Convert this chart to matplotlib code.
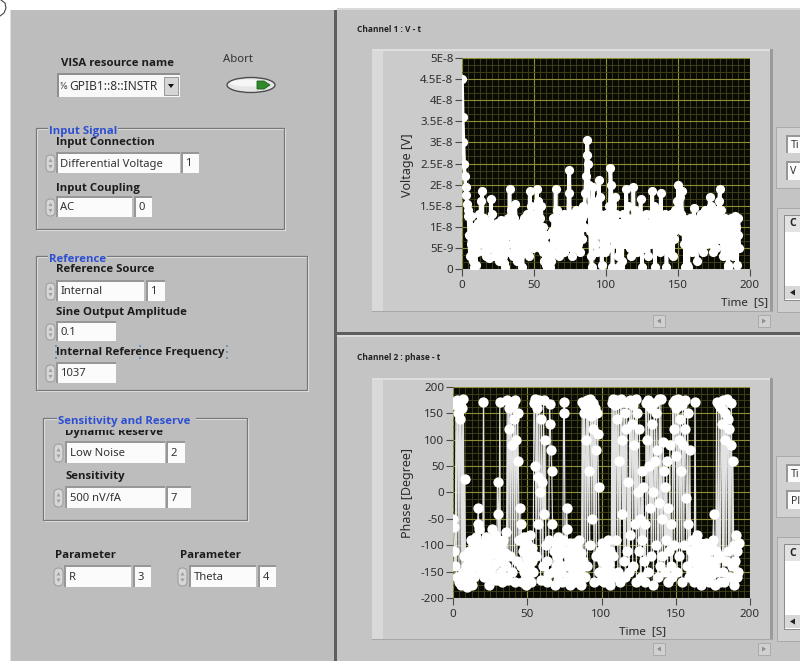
import numpy as np
import matplotlib
matplotlib.use('Agg')

import matplotlib.pyplot as plt
from matplotlib.patches import Rectangle, FancyBboxPatch, Ellipse, Polygon
from matplotlib.ticker import MultipleLocator, FixedLocator, FixedFormatter

plt.rcParams['font.family'] = ['Noto Sans', 'DejaVu Sans']
BOLD_FAMILY = ['Open Sans', 'DejaVu Sans']

W, H = 800, 661
LEFT_BG = '#bdbdbd'
RIGHT_BG = '#c4c4c4'
FRAME_BG = '#cbcbcb'
PLOT_BG = '#0a0a04'

# ---- acquired data, one sample every 0.5 s ----
dt = 0.5
volt_nv = [
    45, 36, 30, 25, 22, 19.5, 17.5, 15.5, 14, 12.5, 8, 3, 12.5, 6, 9, 2, 10, 0.5, 7, 1,
    9, 4, 11, 6, 13, 8, 16, 10, 18.5, 7, 12, 4, 9, 3, 11, 6, 8, 2.5, 10, 5,
    16.5, 9, 13, 6, 10, 3, 8, 5, 11, 7, 4, 9, 2, 6, 11.5, 5, 8, 3, 11, 1.5,
    0.5, 6, 10, 4, 12, 8, 19, 10, 14, 6, 9, 3, 12, 7, 15.5, 9, 5, 2, 10, 6,
    8, 3, 11, 5, 0.5, 7, 12, 9, 4, 10, 13, 6, 9, 3, 18.5, 11, 15, 8, 12, 5,
    10, 6, 13, 7, 19, 11, 16, 9, 5, 12, 15, 8, 4, 10, 2, 6, 1, 8, 0.5, 4,
    1, 5, 0.5, 3, 2, 9, 6, 12, 4, 10, 19, 8, 14, 6, 11, 3, 9, 5, 12, 7,
    10, 4, 13, 7, 9, 5, 12, 8, 18, 23.5, 11, 6, 13, 3, 9, 7, 12, 5, 14, 8,
    11, 6, 13, 9, 4, 10, 12, 7, 15, 10, 13, 18, 22, 27, 30.5, 25, 20, 14, 9, 3,
    0.5, 12, 19.5, 8, 14, 6, 11, 4, 16, 9, 21, 13, 17, 8, 1, 10, 6, 12, 4, 9,
    13, 7, 11, 5, 15, 10, 24, 20, 15, 0.5, 8, 12, 17, 9, 13, 6, 10, 3, 11, 1,
    0.5, 7, 2, 9, 13, 6, 10, 8, 19, 12, 15, 7, 11, 5, 9, 3, 12, 7, 19.5, 10,
    14, 6, 11, 4, 9, 12, 8, 5, 16.5, 10, 0.5, 7, 12, 9, 5, 11, 13, 6, 9, 3,
    10, 6, 13, 9, 18.5, 12, 15, 7, 0.5, 9, 12, 5, 14, 8, 11, 4, 18, 12, 9, 6,
    11, 5, 13, 7, 0.5, 9, 12, 4, 10, 6, 13, 8, 11, 3, 9, 7, 14, 10, 16, 12,
    20, 14, 11, 17, 13, 18.5, 9, 12, 6, 10, 0.5, 8, 1, 11, 0.5, 6, 12, 8, 10, 4,
    9, 12, 14.5, 7, 10, 5, 2, 8, 11, 6, 12, 9, 13, 7, 10, 4, 12, 8, 14, 6,
    11, 7, 13, 9, 17, 12, 15, 6, 10, 4, 12, 8, 14, 5, 11, 7, 13, 16, 19, 10,
    14, 8, 3, 10, 6, 12, 9, 4, 11, 1, 0.5, 7, 10, 5, 12, 8, 3, 9, 11, 12.5,
    6, 10, 1, 8, 12, 5,
]
phase_deg = [
    -50, -65, -110, -140, 165, -160, 175, 150, -170, 170, 140, -175, 160, -150, 178, -120, 25, -165, -140, -180,
    -130, -170, -110, -150, -90, -175, -120, -100, -160, -140, -115, -85, -130, -60, -30, -70, -105, -150, -95, -125,
    -140, 172, -160, -110, -130, -85, -150, -100, -175, -120, -90, -145, -70, -115, -160, -95, -135, -80, -165, -110,
    20, -40, -120, 172, -150, -100, -170, -130, -90, -160, -115, -75, -140, 175, -165, 160, 120, -120, 170, 90,
    -150, 165, 140, -170, 175, 100, -130, 150, 60, -90, -30, -140, -60, -170, -110, -85, -150, -100, -175, -125,
    -95, -160, -115, -140, -80, -170, -130, -105, -150, 170, 178, 50, -120, 160, 30, -60, 175, 0, -165, 140,
    20, -140, 175, -40, 100, -100, -170, -130, -155, -90, 168, 130, 80, 40, -60, -150, -110, -175, -95, -140,
    -120, -165, -85, -135, -100, -150, -115, -170, -90, 172, 150, -140, -110, -30, -70, -160, -125, -95, -175, -140,
    -110, -150, -130, -95, -170, -120, -140, -105, -160, -125, -90, -145, -115, -175, 172, -130, 165, 150, -160, 100,
    175, -140, 160, 40, -100, 178, 145, -50, 170, 120, -170, 160, 80, -120, 150, 110, 10, -150, -110, -165,
    -130, -95, -155, -115, -170, -100, -140, -125, -160, -90, -135, -175, -110, -150, 170, -120, 178, -160, 165, -90,
    175, 140, -150, 170, 60, -170, 178, 100, -40, 172, -130, 150, -160, 120, 170, -110, 20, -150, 175, -80,
    172, 130, -140, 165, 90, -60, 178, -170, 150, 0, -110, 120, -50, -160, 40, -90, 10, -130, -60, -170,
    170, 100, -150, 175, 50, -30, 160, -120, 130, 0, -175, 170, 60, -100, 150, 80, -160, -20, 178, -140,
    178, -50, -120, 95, 40, -150, 10, -90, 60, -170, -30, -110, 90, -140, -60, -160, 170, 120, -100, 175,
    160, 70, -150, 178, 100, -120, 140, 40, -170, 165, 90, -100, 175, 120, -10, -140, 150, -60, -160, 80,
    -110, -150, -90, -130, -170, -120, 172, -100, -145, -80, -160, -115, -135, -95, -175, -125, -150, -105, -165, -140,
    -120, -95, -160, -135, -110, -170, -145, -100, -130, -155, -90, -40, -140, -175, -110, 172, -150, -125, 165, -170,
    -120, 160, 130, -150, 175, -170, 150, 100, -130, 178, 140, -110, 120, -160, 90, 170, -140, 60, -100, -175,
    -130, -80, -160, -110, -150, -95,
]

time_ticks = [0, 50, 100, 150, 200]
volt_ticks = [0, 5e-9, 1e-8, 1.5e-8, 2e-8, 2.5e-8, 3e-8, 3.5e-8, 4e-8, 4.5e-8, 5e-8]
volt_tick_labels = ['0', '5E-9', '1E-8', '1.5E-8', '2E-8', '2.5E-8', '3E-8',
                    '3.5E-8', '4E-8', '4.5E-8', '5E-8']
phase_ticks = [-200, -150, -100, -50, 0, 50, 100, 150, 200]

fig = plt.figure(figsize=(W / 100, H / 100), dpi=100)
bg = fig.add_axes([0, 0, 1, 1])
bg.set_xlim(0, W)
bg.set_ylim(H, 0)
bg.axis('off')


def px_axes(x0, y0, x1, y1):
    return fig.add_axes([x0 / W, 1 - y1 / H, (x1 - x0) / W, (y1 - y0) / H])


def box(x0, y0, x1, y1, fc, ec='none', lw=0, z=1):
    bg.add_patch(Rectangle((x0, y0), x1 - x0, y1 - y0, fc=fc, ec=ec, lw=lw, zorder=z))


def tri(pts, fc, z=4):
    bg.add_patch(Polygon(pts, fc=fc, ec='none', zorder=z))


def label(x, y, s, size=8.2, bold=True, color='#1c1c1c', ha='left', z=5, **kw):
    if bold:
        kw['family'] = BOLD_FAMILY
    return bg.text(x, y, s, fontsize=size, fontweight='bold' if bold else 'normal',
                   color=color, ha=ha, va='center', zorder=z, **kw)


def field(x0, y0, x1, y1, s='', z=3, size=8.1):
    # sunken white entry box
    box(x0 - 2, y0 - 2, x1, y1, '#979797', z=z)
    box(x0, y0, x1, y1, '#fbfbfb', z=z)
    if s:
        label(x0 + 2.5, (y0 + y1) / 2 + 0.5, s, size=size, bold=False, color='#333333', z=z + 1)


def spinner(x, y0, y1):
    bg.add_patch(FancyBboxPatch((x, y0), 9, y1 - y0, boxstyle='round,pad=0,rounding_size=4.5',
                                fc='#d6d6d6', ec='#9a9a9a', lw=0.7, zorder=3))
    ym = (y0 + y1) / 2
    tri([[x + 2.5, ym - 1.5], [x + 6.5, ym - 1.5], [x + 4.5, ym - 5]], '#a0a0a0')
    tri([[x + 2.5, ym + 1.5], [x + 6.5, ym + 1.5], [x + 4.5, ym + 5]], '#a0a0a0')


def ring(xs, x0, x1, y0, y1, s, ix0, ix1, idx):
    spinner(xs, y0 + 1, y1 - 1)
    field(x0, y0, x1, y1, s)
    field(ix0, y0, ix1, y1, idx)


def group(x0, y0, x1, y1, title, tx):
    bg.add_patch(Rectangle((x0 + 1, y0 + 1), x1 - x0, y1 - y0, fill=False, ec='#e8e8e8', lw=0.8, zorder=2))
    bg.add_patch(Rectangle((x0, y0), x1 - x0, y1 - y0, fill=False, ec='#777777', lw=0.9, zorder=2))
    # title sits on the border line but under the control labels
    label(tx, y0 + 3.5, title, color='#2d4fd2', z=4.9,
          bbox=dict(boxstyle='square,pad=0.05', fc=LEFT_BG, ec='none'))


# ---- window background ----
box(0, 0, W, H, 'white', z=0)
box(10, 10, 336, H, LEFT_BG)
box(10, 10, 11, H, '#dedede', z=1.5)
box(334, 10, 337, H, '#5e5e5e', z=1.5)
box(337, 8, W, H, RIGHT_BG)
box(337, 8, W, 9.5, '#dadada', z=1.5)
box(337, 332, W, 335, '#5e5e5e', z=1.5)
box(337, 335, W, 336.5, '#dcdcdc', z=1.5)
bg.plot([1, 5, 6, 4, 0], [0, 3, 8, 13, 16], color='#444444', lw=0.8, zorder=2)

# ---- left control panel ----
label(61, 63, 'VISA resource name')
box(57, 73, 180, 97, '#8f8f8f', z=2)
box(59, 75, 180, 97, '#f8f8f8', z=2)
label(60, 86.5, '⅙', size=7, bold=False, color='#444444')
label(69, 86.5, 'GPIB1::8::INSTR', size=8.6, bold=False, color='#333333')
box(164, 77, 178, 95, '#d6d6d6', ec='#8a8a8a', lw=0.6, z=3)
tri([[168, 84], [174, 84], [171, 88]], '#111111')

label(238, 59, 'Abort', size=8.2, bold=False, color='#333333', ha='center')
bg.add_patch(Ellipse((251, 85), 48, 15, fc='#e6e6e6', ec='#4d4d4d', lw=1.0, zorder=3))
bg.add_patch(Ellipse((249, 83), 38, 7, fc='#f6f6f6', ec='none', zorder=3.5))
bg.add_patch(Polygon([[257, 81], [264, 81], [270, 85], [264, 89], [257, 89]],
                     fc='#2f8a2a', ec='#1f5f1c', lw=0.6, zorder=4))

group(36, 128, 284, 229, 'Input Signal', 49)
label(56, 143, 'Input Connection')
ring(46, 58, 180, 154, 173, 'Differential Voltage', 183, 199, '1')
label(56, 188, 'Input Coupling')
ring(46, 58, 132, 198, 217, 'AC', 136, 152, '0')

group(36, 256, 307, 390, 'Reference', 49)
label(56, 270, 'Reference Source')
ring(46, 58, 144, 282, 301, 'Internal', 148, 165, '1')
label(56, 312, 'Sine Output Amplitude')
spinner(46, 324, 340)
field(58, 323, 116, 341, '0.1')
label(56, 352, 'Internal Reference Frequency')
for hx, hys in [(56, (346, 352, 358)), (140, (346, 358)), (227, (346, 352, 358))]:
    for hy in hys:
        box(hx - 1, hy - 1, hx + 1, hy + 1, '#6f93bd', z=6)
spinner(46, 365, 382)
field(58, 364, 116, 383, '1037')

group(43, 418, 247, 520, 'Sensitivity and Reserve', 58)
label(65, 433, 'Dynamic Reserve')
# the group title overlaps the top of the label below it
box(57, 412, 196, 429.5, LEFT_BG, z=5.5)
label(58, 421.5, 'Sensitivity and Reserve', color='#2d4fd2', z=7)
ring(54, 67, 165, 443, 463, 'Low Noise', 168, 185, '2')
label(65, 477, 'Sensitivity')
ring(54, 67, 165, 488, 508, '500 nV/fA', 168, 191, '7')

label(55, 555, 'Parameter')
label(180, 555, 'Parameter')
ring(54, 66, 131, 567, 587, 'R', 135, 151, '3')
ring(178, 191, 256, 567, 587, 'Theta', 260, 276, '4')


# ---- graph frames on the right ----
def graph_frame(y0, y1):
    box(372, y0, 773, y1, FRAME_BG, z=2)
    box(372, y0, 383, y1, '#d9d9d9', z=2.2)
    box(372, y0, 773, y0 + 1.5, '#dedede', z=2.3)
    box(770, y0, 773, y1, '#9a9a9a', z=2.3)
    box(372, y1 - 1.5, 773, y1, '#a8a8a8', z=2.3)
    # scroll buttons under the graph
    ym = y1 + 9
    box(653, y1 + 3, 665, y1 + 15, '#d0d0d0', ec='#a6a6a6', lw=0.6, z=2)
    tri([[657, ym], [661, ym - 2.5], [661, ym + 2.5]], '#8c8c8c')
    box(758, y1 + 3, 770, y1 + 15, '#d0d0d0', ec='#a6a6a6', lw=0.6, z=2)
    tri([[766, ym], [762, ym - 2.5], [762, ym + 2.5]], '#8c8c8c')


def side_controls(y, second):
    box(776, y, W, y + 61, '#d1d1d1', ec='#a9a9a9', lw=0.7, z=2)
    field(788, y + 10, W, y + 26, 'Ti', size=7.6)
    field(788, y + 36, W, y + 53, second, size=7.6)
    box(777, y + 81, W, y + 185, '#cfcfcf', ec='#a9a9a9', lw=0.7, z=2)
    box(784, y + 88, W, y + 173, '#ffffff', ec='#8a8a8a', lw=0.7, z=3)
    box(785, y + 89, W, y + 105, '#e3e3e3', z=3.2)
    label(789, y + 97, 'C', size=7.5, color='#222222')
    box(785, y + 159, W, y + 172, '#d8d8d8', z=3.2)
    tri([[790, y + 165.5], [795, y + 162.5], [795, y + 168.5]], '#222222')


graph_frame(49, 312)
graph_frame(378, 640)
side_controls(127, 'V')
side_controls(456, 'Pl')

label(357, 29, 'Channel 1 : V - t', size=6, color='#222222')
label(357, 358, 'Channel 2 : phase - t', size=6, color='#222222')
label(408, 165, 'Voltage [V]', size=9, bold=False, color='#2a2a2a', ha='center', rotation=90)
label(408, 493, 'Phase [Degree]', size=9, bold=False, color='#2a2a2a', ha='center', rotation=90)
label(768, 303, 'Time  [S]', size=8.4, bold=False, color='#2a2a2a', ha='right')
label(643, 632, 'Time  [S]', size=8.4, bold=False, color='#2a2a2a', ha='center')


# ---- waveform graphs ----
def style_graph(ax, ymin, ymax, yticks, ylabels, ystep_minor):
    ax.set_facecolor(PLOT_BG)
    ax.set_xlim(0, 200)
    ax.set_ylim(ymin, ymax)
    ax.xaxis.set_major_locator(FixedLocator(time_ticks))
    ax.xaxis.set_minor_locator(MultipleLocator(50 / 12))
    ax.yaxis.set_major_locator(FixedLocator(yticks))
    ax.yaxis.set_major_formatter(FixedFormatter(ylabels))
    ax.yaxis.set_minor_locator(MultipleLocator(ystep_minor))
    ax.set_axisbelow(True)
    ax.grid(which='minor', color='#44441a', lw=0.6)
    ax.grid(which='major', color='#8e8e36', lw=0.8)
    for sp in ax.spines.values():
        sp.set_visible(False)
    ax.tick_params(which='major', direction='out', length=5, width=0.8, color='#4a4a4a',
                   labelsize=8.3, labelcolor='#2e2e2e')
    ax.tick_params(axis='y', pad=1.2)
    ax.tick_params(axis='x', pad=3)
    ax.tick_params(which='minor', length=0)


t_volt = np.arange(len(volt_nv)) * dt
t_phase = np.arange(len(phase_deg)) * dt

ax1 = px_axes(462, 58, 750, 269)
style_graph(ax1, 0, 5e-8, volt_ticks, volt_tick_labels, 5e-9 / 3)
ax1.plot(t_volt, np.array(volt_nv) * 1e-9, color='white', lw=2.6,
         marker='o', ms=6.6, mfc='white', mec='white', mew=0)

ax2 = px_axes(453, 387, 750, 598)
style_graph(ax2, -200, 200, phase_ticks, [str(v) for v in phase_ticks], 12.5)
# thin connecting lines so the wrap-around jumps stay visible as separate strokes
ax2.plot(t_phase, phase_deg, color='#e2e2e2', lw=0.85)
ax2.plot(t_phase, phase_deg, ls='none', marker='o', ms=7.4, mfc='white', mec='white', mew=0)

fig.savefig('out.png', dpi=100)
